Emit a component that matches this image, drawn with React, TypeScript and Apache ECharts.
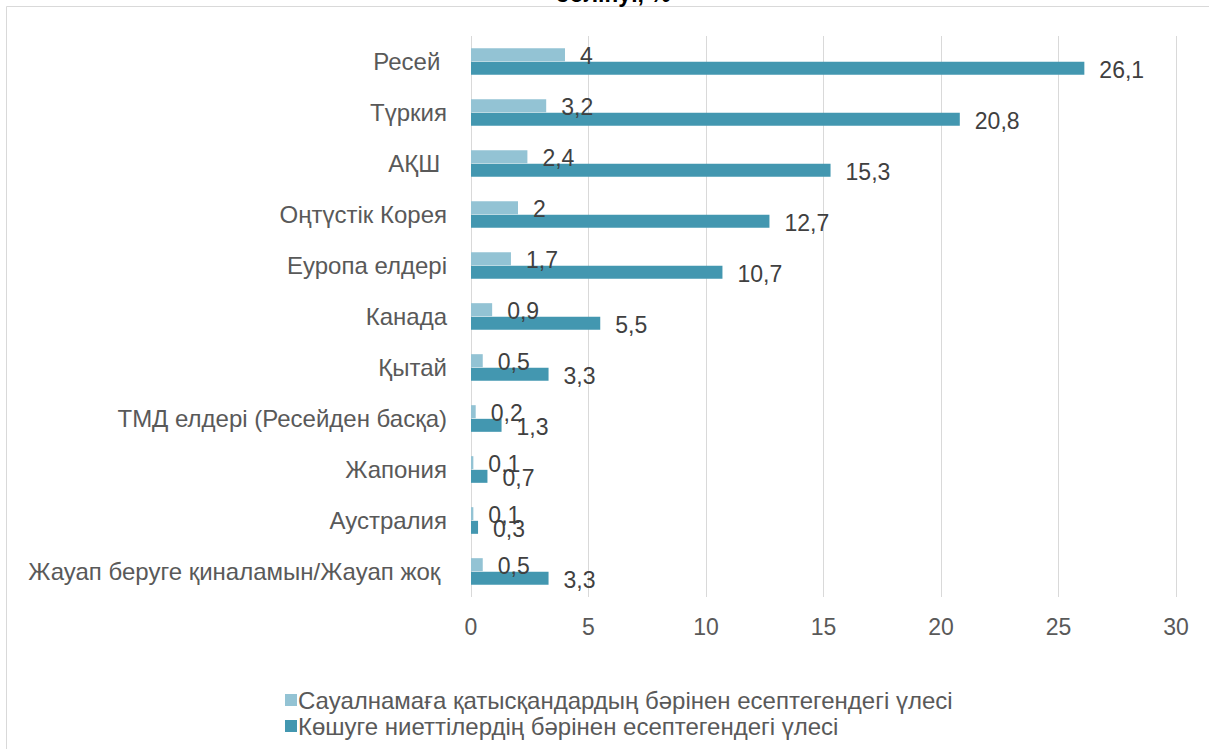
import React, { useEffect, useRef } from "react";
import * as echarts from "echarts";

const categories = [
  "Ресей ",
  "Түркия",
  "АҚШ ",
  "Оңтүстік Корея",
  "Еуропа елдері",
  "Канада",
  "Қытай",
  "ТМД елдері (Ресейден басқа)",
  "Жапония",
  "Аустралия",
  "Жауап беруге қиналамын/Жауап жоқ ",
];
const allRespondents = [4, 3.2, 2.4, 2, 1.7, 0.9, 0.5, 0.2, 0.1, 0.1, 0.5];
const intendingToMove = [26.1, 20.8, 15.3, 12.7, 10.7, 5.5, 3.3, 1.3, 0.7, 0.3, 3.3];
const seriesNames = [
  "Сауалнамаға қатысқандардың бәрінен есептегендегі үлесі",
  "Көшуге ниеттілердің бәрінен есептегендегі үлесі",
];
const titleTail = "бөлінуі, %";

const FONT = "'Liberation Sans', Arial, sans-serif";

export default function App() {
  const ref = useRef<HTMLDivElement>(null);
  useEffect(() => {
    const chart = echarts.init(ref.current!, null, { renderer: "svg" });
    const fmt = (p: any) => String(p.value).replace(".", ",");
    chart.setOption({
      animation: false,
      backgroundColor: "#ffffff",
      textStyle: { fontFamily: FONT },
      graphic: [
        {
          type: "rect",
          shape: { x: 6.5, y: 6.5, width: 1220, height: 760 },
          style: { fill: "none", stroke: "#D9D9D9", lineWidth: 1 },
          silent: true,
        },
        {
          type: "text",
          x: 613,
          y: -18,
          style: {
            text: titleTail,
            fontFamily: FONT,
            fontSize: 23,
            fontWeight: "bold",
            fill: "#000000",
            align: "center",
            verticalAlign: "top",
          },
        },
      ],
      legend: {
        orient: "vertical",
        left: 280,
        top: 683,
        itemWidth: 12,
        itemHeight: 12,
        itemGap: 2,
        icon: "rect",
        textStyle: { color: "#595959", fontSize: 24, fontFamily: FONT, padding: [0, 0, 0, -4] },
        data: seriesNames,
      },
      grid: { left: 471, right: 33, top: 36, bottom: 152, containLabel: false },
      xAxis: {
        type: "value",
        min: 0,
        max: 30,
        interval: 5,
        axisLine: { show: false },
        axisTick: { show: false },
        axisLabel: { color: "#595959", fontSize: 23, margin: 18, fontFamily: FONT },
        splitLine: { show: true, lineStyle: { color: "#D9D9D9", width: 1 } },
      },
      yAxis: {
        type: "category",
        inverse: true,
        data: categories,
        axisLine: { show: false },
        axisTick: { show: false },
        axisLabel: { color: "#595959", fontSize: 24, margin: 24, fontFamily: FONT },
      },
      series: [
        {
          name: seriesNames[0],
          type: "bar",
          data: allRespondents,
          barWidth: 13,
          barGap: "5%",
          itemStyle: { color: "#93C3D4" },
          label: {
            show: true,
            position: "right",
            distance: 15,
            color: "#404040",
            fontSize: 23,
            fontFamily: FONT,
            offset: [0, 1],
            formatter: fmt,
          },
        },
        {
          name: seriesNames[1],
          type: "bar",
          data: intendingToMove,
          barWidth: 13,
          barGap: "5%",
          itemStyle: { color: "#4397B0" },
          label: {
            show: true,
            position: "right",
            distance: 15,
            color: "#404040",
            fontSize: 23,
            fontFamily: FONT,
            offset: [0, 2],
            formatter: fmt,
          },
        },
      ],
    });
    return () => chart.dispose();
  }, []);
  return (
    <div
      ref={ref}
      style={{ position: "absolute", left: 0, top: 0, width: 1209, height: 749 }}
    />
  );
}
